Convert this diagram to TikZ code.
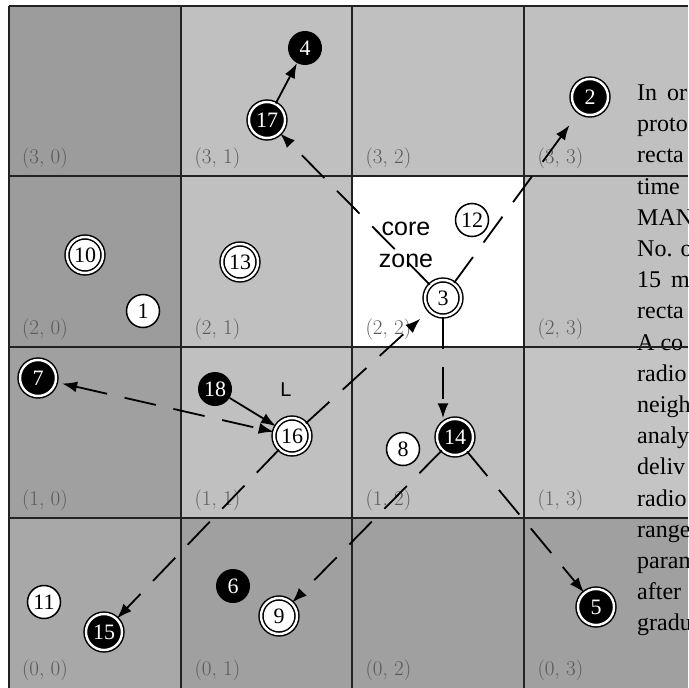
\documentclass[tikz,border=0pt]{standalone}
\usepackage{fontspec}
\newfontfamily\tnr{Liberation Serif}
\newfontfamily\arialf{Liberation Sans}
\usetikzlibrary{arrows.meta}
\definecolor{dk}{HTML}{9C9C9C}
\definecolor{dkb}{HTML}{A0A0A0}
\definecolor{dkc}{HTML}{A8A8A8}
\definecolor{lt}{HTML}{C0C0C0}
\definecolor{ltb}{HTML}{C4C4C4}
\definecolor{lab}{HTML}{5A5A5A}
\definecolor{gridc}{HTML}{222222}
\begin{document}
\begin{tikzpicture}[x=1pt,y=-1pt,
  numf/.style={font=\tnr\fontsize{22}{22}\selectfont},
  ringw/.style={circle, draw=black, line width=1.5pt, double=white, double distance=2.4pt, fill=white, minimum size=36pt, inner sep=0pt, numf},
  ringb/.style={ringw, fill=black, text=white},
  dotb/.style={circle, fill=black, text=white, minimum size=34pt, inner sep=0pt, numf},
  dotw/.style={circle, draw=black, line width=1.5pt, fill=white, minimum size=33pt, inner sep=0pt, numf},
  lbl/.style={anchor=west, text=lab, font=\fontsize{21}{21}\selectfont},
  gridl/.style={draw=gridc, line width=2pt},
  arr/.style={line width=1.8pt, -{Latex[length=15pt,width=11pt]}},
  darr/.style={arr, dash pattern=on 32pt off 18pt},
  side/.style={anchor=base west, font=\tnr\fontsize{24}{24}\selectfont},
  sans/.style={font=\arialf\fontsize{25}{25}\selectfont}
]
\useasboundingbox (0,0) rectangle (688,688);
\fill[white] (0,0) rectangle (688,688);
% cells
\fill[dk]  (8.5,6) rectangle (181,176);
\fill[lt]  (181,6) rectangle (688,176);
\fill[dk]  (8.5,176) rectangle (181,347);
\fill[lt]  (181,176) rectangle (352,347);
\fill[white] (352,176) rectangle (524,347);
\fill[lt]  (524,176) rectangle (688,347);
\fill[dkb] (8.5,347) rectangle (181,518);
\fill[lt]  (181,347) rectangle (524,518);
\fill[ltb] (524,347) rectangle (688,518);
\fill[dkc] (8.5,518) rectangle (181,688);
\fill[dkb] (181,518) rectangle (688,688);
% side text
\foreach \t [count=\i from 0] in {In\hspace{10pt}or,proto,recta,time,MAN,No. o,15\hspace{10pt}m,recta,A co,radio,neigh,analy,deliv,radio,range,param,after,gradu}
  \node[side, inner sep=0pt] (t\i) at (637,100.5+31.2*\i) {\t};
% grid
\foreach \x in {8.5,181,352,524} \draw[gridl] (\x,6) -- (\x,688);
\foreach \y in {6,176,347,518} \draw[gridl] (8.5,\y) -- (688,\y);
% cell labels
\foreach \r/\yb in {3/176,2/347,1/518,0/688}
  \foreach \c/\xl in {0/8.5,1/181,2/352,3/524}
    \node[lbl] (lab\r\c) at (\xl+10,\yb-18) {(\r, \c)};
% text
\node[sans] (core) at (406,229) {core};
\node[sans] (zone) at (406,261) {zone};
\node[font=\arialf\fontsize{20}{20}\selectfont] (L) at (286,390) {L};
% nodes
\node[dotb]  (n4)  at (305,48)  {4};
\node[ringb] (n17) at (267,120) {17};
\node[ringb] (n2)  at (590,97)  {2};
\node[ringw] (n10) at (85,255)  {10};
\node[ringw] (n13) at (240,262) {13};
\node[dotw]  (n1)  at (143,311) {1};
\node[dotw]  (n12) at (472,220) {12};
\node[ringw] (n3)  at (443,298) {3};
\node[ringb] (n7)  at (38,378)  {7};
\node[dotb]  (n18) at (215,389) {18};
\node[ringw] (n16) at (292,436) {16};
\node[dotw]  (n8)  at (403,449) {8};
\node[ringb] (n14) at (455,437) {14};
\node[dotw]  (n11) at (44,602)  {11};
\node[ringb] (n15) at (104,632) {15};
\node[dotb]  (n6)  at (233,586) {6};
\node[ringw] (n9)  at (279,616) {9};
\node[ringb] (n5)  at (596,607) {5};
% connectors
\draw[arr] (n17) -- (n4);
\draw[darr] (n3) -- (n17);
\draw[darr, shorten >=16pt] (n3) -- (n2);
\draw[darr] (n3) -- (n3 |- n14.north);
\draw[darr] (n14) -- (n5);
\draw[darr] (n14) -- (n9);
\draw[darr, shorten >=12pt] (n16) -- (n3);
\draw[darr] (n16) -- (n15);
\draw[arr] (n18) -- (n16);
\draw[darr, {Latex[length=15pt,width=11pt]}-{Latex[length=15pt,width=11pt]}, shorten <=6pt] (n7) -- (n16);
\end{tikzpicture}
\end{document}
